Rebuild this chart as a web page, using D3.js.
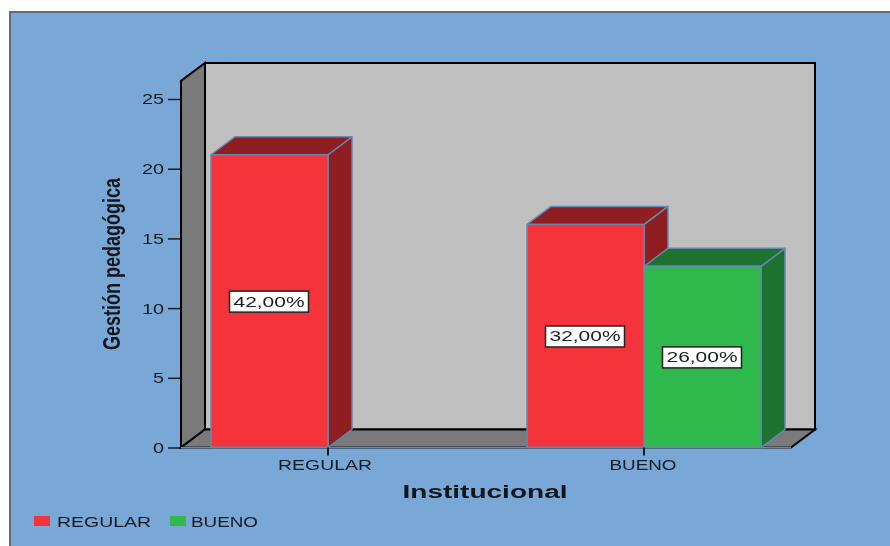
<!DOCTYPE html>
<html>
<head>
<meta charset="utf-8">
<script src="https://cdnjs.cloudflare.com/ajax/libs/d3/7.8.5/d3.min.js"></script>
<style>
  html, body { margin: 0; padding: 0; background: #fff; overflow: hidden; }
  svg { display: block; font-family: "Liberation Sans", Arial, sans-serif; filter: blur(0.45px); }
</style>
</head>
<body>
<svg id="chart" width="890" height="546"></svg>
<script>
const categories = ["REGULAR", "BUENO"]
const seriesNames = ["REGULAR", "BUENO"]
const regularValues = [21, 16]
const buenoValues = [0, 13]
const regularLabels = ["42,00%", "32,00%"]
const buenoLabels = ["", "26,00%"]
const yTicks = [0, 5, 10, 15, 20, 25]
const yMax = 26.3

const colors = { REGULAR: "#f4333b", BUENO: "#2fb84b" }
const darkColors = { REGULAR: "#8f1e22", BUENO: "#1d7230" }
const edge = "#6189b2"
const ink = "#151d27"
const depth = { x: 24, y: -18 }

const bars = []
categories.forEach((c, i) => {
  if (regularValues[i] > 0) bars.push({ category: c, series: "REGULAR", value: regularValues[i], label: regularLabels[i] })
  if (buenoValues[i] > 0) bars.push({ category: c, series: "BUENO", value: buenoValues[i], label: buenoLabels[i] })
})

const svg = d3.select("#chart")

// panel
svg.append("rect").attr("x", 10).attr("y", 12).attr("width", 890).attr("height", 546)
  .attr("fill", "#7aa8d6").attr("stroke", "#5f6b76").attr("stroke-width", 2)

const y = d3.scaleLinear().domain([0, 25]).range([447.5, 99])
const x = d3.scaleBand().domain(categories).range([170, 802])
const xSeries = d3.scaleBand().domain(seriesNames).range([-117, 117])

const left = 181, right = 791
const yBase = y(0), yTop = y(yMax)

// walls of the 3d box
const walls = svg.append("g").attr("stroke", "#000").attr("stroke-width", 2).attr("stroke-linejoin", "miter")
const poly = pts => pts.map(p => p.join(",")).join(" ")
walls.append("polygon") // back wall
  .attr("points", poly([[left + depth.x, yTop + depth.y], [right + depth.x, yTop + depth.y], [right + depth.x, yBase + depth.y], [left + depth.x, yBase + depth.y]]))
  .attr("fill", "#c0c0c0")
walls.append("polygon") // side wall
  .attr("points", poly([[left, yTop], [left + depth.x, yTop + depth.y], [left + depth.x, yBase + depth.y], [left, yBase]]))
  .attr("fill", "#7a7a7a")
walls.append("polygon") // floor
  .attr("points", poly([[left, yBase], [left + depth.x, yBase + depth.y], [right + depth.x, yBase + depth.y], [right, yBase]]))
  .attr("fill", "#7a7a7a")

// bars
const bar = svg.append("g").selectAll("g").data(bars).enter().append("g")
  .attr("stroke", edge).attr("stroke-width", 1.5).attr("stroke-linejoin", "round")
const bx0 = d => x(d.category) + x.bandwidth() / 2 + xSeries(d.series)
const bx1 = d => bx0(d) + xSeries.bandwidth()
bar.append("polygon") // right side
  .attr("points", d => poly([[bx1(d), y(d.value)], [bx1(d) + depth.x, y(d.value) + depth.y], [bx1(d) + depth.x, yBase + depth.y], [bx1(d), yBase]]))
  .attr("fill", d => darkColors[d.series])
bar.append("polygon") // top
  .attr("points", d => poly([[bx0(d), y(d.value)], [bx0(d) + depth.x, y(d.value) + depth.y], [bx1(d) + depth.x, y(d.value) + depth.y], [bx1(d), y(d.value)]]))
  .attr("fill", d => darkColors[d.series])
bar.append("rect") // front
  .attr("x", bx0).attr("y", d => y(d.value))
  .attr("width", xSeries.bandwidth()).attr("height", d => yBase - y(d.value))
  .attr("fill", d => colors[d.series])

// value labels
const label = svg.append("g").selectAll("g").data(bars).enter().append("g")
  .attr("transform", d => `translate(${(bx0(d) + bx1(d)) / 2 - 0.5},${y(d.value / 2) + 0.5})`)
label.append("rect").attr("x", -39.5).attr("y", -10.5).attr("width", 79).attr("height", 21)
  .attr("fill", "#fff").attr("stroke", "#222").attr("stroke-width", 1.5)
label.append("text").attr("text-anchor", "middle").attr("y", 5)
  .attr("font-size", 14.5).attr("fill", ink)
  .attr("textLength", 71).attr("lengthAdjust", "spacingAndGlyphs")
  .text(d => d.label)

// axes
const yAxis = svg.append("g").attr("transform", `translate(${left},0)`)
  .call(d3.axisLeft(y).tickValues(yTicks).tickSize(13).tickPadding(4))
yAxis.select(".domain").remove()
yAxis.selectAll("line").attr("stroke", ink).attr("stroke-width", 1.5)
yAxis.selectAll("text").attr("font-size", 15.5).attr("fill", ink).attr("font-family", "Liberation Sans")
  .attr("textLength", d => d < 10 ? 11 : 22).attr("lengthAdjust", "spacingAndGlyphs")

const xAxis = svg.append("g").attr("transform", `translate(0,${yBase})`)
  .call(d3.axisBottom(x).tickSize(8).tickPadding(4))
xAxis.select(".domain").attr("stroke", edge).attr("stroke-width", 1.5)
  .attr("d", `M${left},0H${right}`)
xAxis.selectAll("line").attr("stroke", ink).attr("stroke-width", 2)
xAxis.selectAll("text").attr("font-size", 14.5).attr("fill", ink).attr("font-family", "Liberation Sans")
  .attr("dx", d => d === "REGULAR" ? -3 : -1)
  .attr("textLength", d => d === "REGULAR" ? 94 : 67).attr("lengthAdjust", "spacingAndGlyphs")

// axis titles
svg.append("text").attr("transform", "translate(120,264) rotate(-90)")
  .attr("text-anchor", "middle").attr("font-size", 23).attr("font-weight", "bold").attr("fill", "#10161c")
  .attr("textLength", 172).attr("lengthAdjust", "spacingAndGlyphs")
  .text("Gestión pedagógica")
svg.append("text").attr("x", 485).attr("y", 498)
  .attr("text-anchor", "middle").attr("font-size", 17.5).attr("font-weight", "bold").attr("fill", "#10161c")
  .attr("textLength", 165).attr("lengthAdjust", "spacingAndGlyphs")
  .text("Institucional")

// legend
const legendX = d3.scaleOrdinal().domain(seriesNames).range([34, 170])
const legendText = d3.scaleOrdinal().domain(seriesNames).range([94, 67])
const legend = svg.append("g").selectAll("g").data(seriesNames).enter().append("g")
  .attr("transform", d => `translate(${legendX(d)},516)`)
legend.append("rect").attr("width", 16).attr("height", 10).attr("fill", d => colors[d])
legend.append("text").attr("x", d => d === "REGULAR" ? 23 : 21).attr("y", 11).attr("font-size", 14.5).attr("fill", ink)
  .attr("textLength", d => legendText(d)).attr("lengthAdjust", "spacingAndGlyphs")
  .text(d => d)
</script>
</body>
</html>
